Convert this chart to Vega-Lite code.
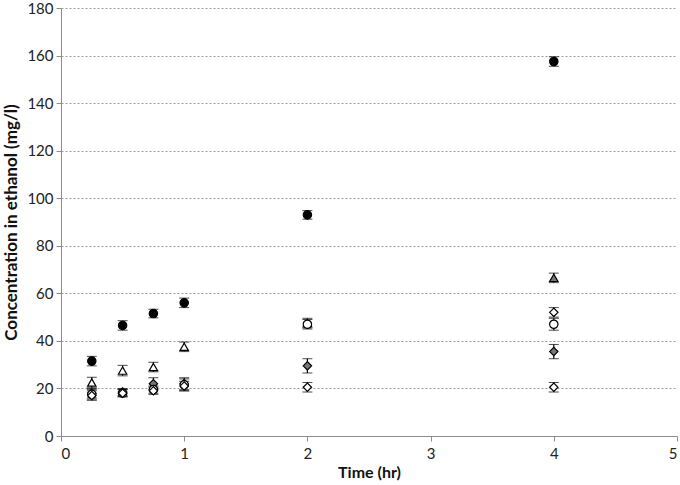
{
  "$schema": "https://vega.github.io/schema/vega-lite/v6.json",
  "width": 616,
  "height": 428,
  "autosize": {"type": "none"},
  "padding": {"left": 61, "top": 8, "right": 3, "bottom": 49},
  "background": "white",
  "config": {
    "view": {"stroke": null},
    "font": "Lato"
  },
  "data": {
    "values": [
      {"t": 0.25, "series": "A", "v": 31.5, "e": 2},
      {"t": 0.5, "series": "A", "v": 46.5, "e": 2},
      {"t": 0.75, "series": "A", "v": 51.5, "e": 1.8},
      {"t": 1, "series": "A", "v": 56, "e": 2},
      {"t": 2, "series": "A", "v": 93, "e": 1.8},
      {"t": 4, "series": "A", "v": 157.5, "e": 2},
      {"t": 0.25, "series": "B", "v": 22.5, "e": 2.2},
      {"t": 0.5, "series": "B", "v": 27.5, "e": 2.2},
      {"t": 0.75, "series": "B", "v": 29, "e": 2},
      {"t": 1, "series": "B", "v": 37.5, "e": 2},
      {"t": 2, "series": "B", "v": 47.5, "e": 2},
      {"t": 4, "series": "G", "v": 66.5, "e": 2},
      {"t": 0.25, "series": "C", "v": 18, "e": 2},
      {"t": 0.5, "series": "C", "v": 18.5, "e": 1.5},
      {"t": 0.75, "series": "C", "v": 22, "e": 2.5},
      {"t": 1, "series": "C", "v": 22, "e": 2.5},
      {"t": 2, "series": "C", "v": 29.5, "e": 3},
      {"t": 4, "series": "C", "v": 35.5, "e": 3},
      {"t": 0.25, "series": "D", "v": 17.5, "e": 2},
      {"t": 0.5, "series": "D", "v": 18, "e": 1.5},
      {"t": 0.75, "series": "D", "v": 19.5, "e": 1.5},
      {"t": 1, "series": "D", "v": 21.5, "e": 2.5},
      {"t": 2, "series": "D", "v": 47, "e": 2},
      {"t": 4, "series": "D", "v": 47, "e": 2.5},
      {"t": 0.25, "series": "E", "v": 17, "e": 2},
      {"t": 0.5, "series": "E", "v": 18, "e": 1.5},
      {"t": 0.75, "series": "E", "v": 19, "e": 1.5},
      {"t": 1, "series": "E", "v": 21, "e": 2},
      {"t": 2, "series": "E", "v": 20.5, "e": 2},
      {"t": 4, "series": "E", "v": 20.5, "e": 2},
      {"t": 4, "series": "F", "v": 52, "e": 2}
    ]
  },
  "transform": [
    {"calculate": "datum.v - datum.e", "as": "lo"},
    {"calculate": "datum.v + datum.e", "as": "hi"}
  ],
  "encoding": {
    "x": {
      "field": "t", "type": "quantitative",
      "scale": {"domain": [0, 5], "nice": false},
      "axis": {
        "title": "Time (hr)", "values": [0, 1, 2, 3, 4, 5],
        "grid": false, "domainColor": "#8c8c8c", "tickColor": "#8c8c8c", "tickSize": 5,
        "labelFontSize": 15, "labelColor": "#222", "labelPadding": 5,
        "titleFontSize": 16, "titleFontWeight": "bold", "titleColor": "#111", "titlePadding": 3,
        "labelFont": "Lato", "titleFont": "Lato"
      }
    }
  },
  "layer": [
    {
      "mark": {"type": "errorbar", "ticks": {"size": 10, "color": "black", "strokeWidth": 1.3}, "rule": {"color": "black", "strokeWidth": 1.2}},
      "encoding": {
        "y": {
          "field": "lo", "type": "quantitative",
          "scale": {"domain": [0, 180], "nice": false},
          "axis": {
            "title": "Concentration in ethanol (mg/l)", "values": [0, 20, 40, 60, 80, 100, 120, 140, 160, 180],
            "grid": true, "gridColor": "#9a9a9a", "gridDash": [2, 2], "gridWidth": 1,
            "domainColor": "#8c8c8c", "tickColor": "#8c8c8c", "tickSize": 5,
            "labelFontSize": 15, "labelColor": "#222", "labelPadding": 3,
            "titleFontSize": 17, "titleFontWeight": "bold", "titleColor": "#111", "titlePadding": 6,
            "labelFont": "Lato", "titleFont": "Lato"
          }
        },
        "y2": {"field": "hi"}
      }
    },
    {
      "mark": {"type": "point", "filled": false, "stroke": "black", "strokeWidth": 1.2, "opacity": 1},
      "encoding": {
        "y": {"field": "v", "type": "quantitative"},
        "shape": {
          "field": "series", "type": "nominal", "legend": null,
          "scale": {"domain": ["A", "B", "C", "D", "E", "F", "G"], "range": ["circle", "triangle-up", "diamond", "circle", "diamond", "diamond", "triangle-up"]}
        },
        "fill": {
          "field": "series", "type": "nominal", "legend": null,
          "scale": {"domain": ["A", "B", "C", "D", "E", "F", "G"], "range": ["black", "white", "#777777", "white", "white", "white", "#777777"]}
        },
        "size": {"value": 70}
      }
    }
  ]
}
